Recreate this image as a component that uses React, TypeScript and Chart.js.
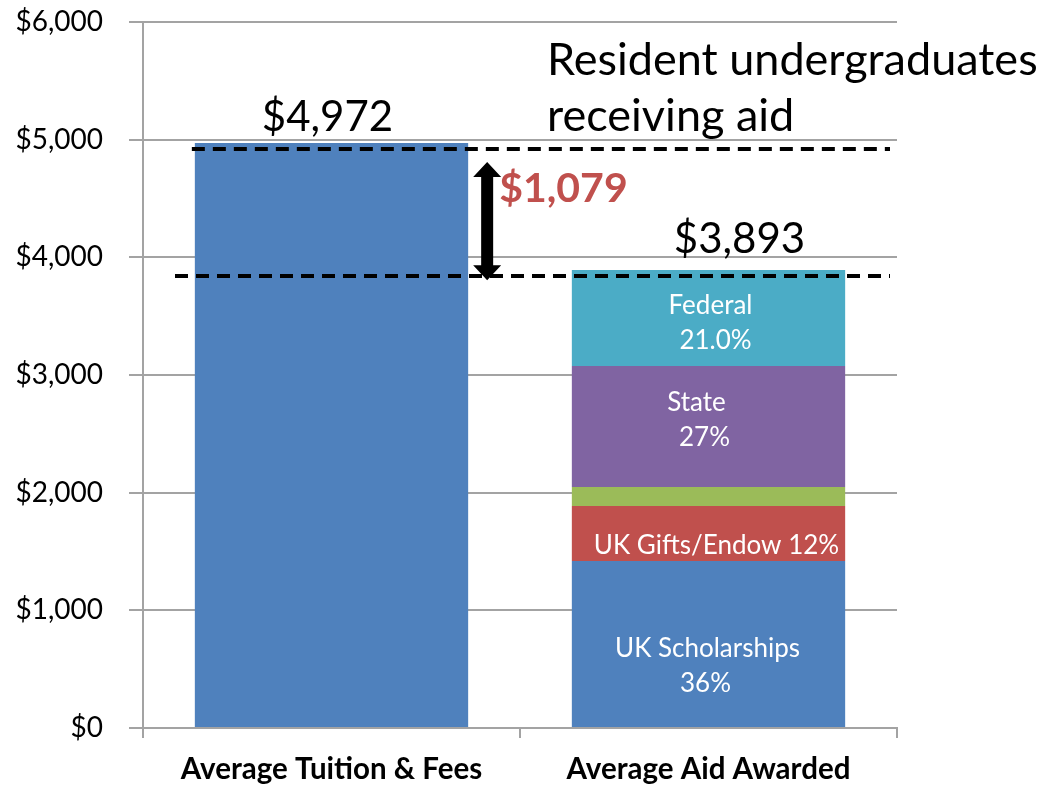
import React, { useEffect, useRef } from "react";
import { Chart, registerables } from "chart.js";

Chart.register(...registerables);

// ---------- data ----------
const categories = ["Average Tuition & Fees", "Average Aid Awarded"];
const tuitionValues = [4972, null];
const scholarshipValues = [null, 1419];
const giftValues = [null, 467];
const otherValues = [null, 162];
const stateValues = [null, 1028];
const federalValues = [null, 817];
const segmentLabels = [["UK Scholarships", "36%"], ["UK Gifts/Endow 12%"], [], ["State", "27%"], ["Federal", "21.0%"]];
const totalLabels = ["$4,972", "$3,893"];
const referenceLines = [4917, 3838];
const arrowRange = [3805, 4810];
const gapLabel = "$1,079";
const titleLines = ["Resident undergraduates", "receiving aid"];
const yMin = 0;
const yMax = 6000;
const yStep = 1000;

// ---------- styles ----------
const FONT = "Lato, 'Open Sans', sans-serif";
const GRID = "#a3a3a3";
const segColors = ["#4F81BD", "#C0504D", "#9BBB59", "#8064A2", "#4BACC6"];
const segLayout = [
  { dy: 13, dx: [-1, -3] },
  { dy: 20, dx: [8] },
  { dy: 0, dx: [] },
  { dy: -16, dx: [-12, -4] },
  { dy: -4, dx: [2, 7] },
];

const annotationPlugin = {
  id: "annotations",
  afterDatasetsDraw(chart: any) {
    const ctx = chart.ctx;
    const ys = chart.scales.y;
    const area = chart.chartArea;
    const bar0 = chart.getDatasetMeta(0).data[0];
    const aidEls = [1, 2, 3, 4, 5].map((i) => chart.getDatasetMeta(i).data[1]);
    const topEl = aidEls[4];
    ctx.save();

    // segment labels
    ctx.fillStyle = "#ffffff";
    ctx.font = `26px ${FONT}`;
    ctx.textAlign = "center";
    ctx.textBaseline = "alphabetic";
    segmentLabels.forEach((lines, i) => {
      const el = aidEls[i];
      const mid = (el.y + el.base) / 2;
      lines.forEach((t, j) => {
        ctx.fillText(t, el.x + segLayout[i].dx[j], mid + segLayout[i].dy + j * 35);
      });
    });

    // dashed reference lines
    ctx.strokeStyle = "#000";
    ctx.lineWidth = 4;
    ctx.setLineDash([13, 8]);
    const starts = [bar0.x - bar0.width / 2 - 3, area.left + 32];
    referenceLines.forEach((v, i) => {
      const py = Math.round(ys.getPixelForValue(v));
      ctx.beginPath();
      ctx.moveTo(starts[i], py);
      ctx.lineTo(area.right - 7, py);
      ctx.stroke();
    });
    ctx.setLineDash([]);

    // double arrow
    const ax = bar0.x + bar0.width / 2 + 19;
    const aTop = ys.getPixelForValue(arrowRange[1]);
    const aBot = ys.getPixelForValue(arrowRange[0]);
    const headH = 15;
    const headW = 14;
    const shaft = 6;
    ctx.fillStyle = "#000";
    ctx.beginPath();
    ctx.moveTo(ax, aTop);
    ctx.lineTo(ax + headW, aTop + headH);
    ctx.lineTo(ax + shaft, aTop + headH);
    ctx.lineTo(ax + shaft, aBot - headH);
    ctx.lineTo(ax + headW, aBot - headH);
    ctx.lineTo(ax, aBot);
    ctx.lineTo(ax - headW, aBot - headH);
    ctx.lineTo(ax - shaft, aBot - headH);
    ctx.lineTo(ax - shaft, aTop + headH);
    ctx.lineTo(ax - headW, aTop + headH);
    ctx.closePath();
    ctx.fill();

    // gap label
    ctx.fillStyle = "#C0504D";
    ctx.font = `bold 41px ${FONT}`;
    ctx.textAlign = "left";
    ctx.fillText(gapLabel, bar0.x + bar0.width / 2 + 31, ys.getPixelForValue(arrowRange[1]) + 40);

    // totals
    ctx.fillStyle = "#000";
    ctx.font = `42px ${FONT}`;
    ctx.textAlign = "center";
    ctx.fillText(totalLabels[0], bar0.x - 4, bar0.y - 12);
    ctx.fillText(totalLabels[1], topEl.x + 31, topEl.y - 17);

    // title
    ctx.font = `45px ${FONT}`;
    ctx.textAlign = "left";
    ctx.fillText(titleLines[0], area.left + 404, 75);
    ctx.fillText(titleLines[1], area.left + 404, 131);

    ctx.restore();
  },
};

export default function App() {
  const ref = useRef<HTMLCanvasElement | null>(null);
  useEffect(() => {
    if (!ref.current) return;
    const mk = (label: string, data: any[], color: string) => ({
      label,
      data,
      backgroundColor: color,
      borderWidth: 0,
      barPercentage: 0.725,
      categoryPercentage: 1,
    });
    const chart = new Chart(ref.current, {
      type: "bar",
      data: {
        labels: categories,
        datasets: [
          mk("Tuition", tuitionValues, segColors[0]),
          mk("UK Scholarships", scholarshipValues, segColors[0]),
          mk("UK Gifts/Endow", giftValues, segColors[1]),
          mk("Other", otherValues, segColors[2]),
          mk("State", stateValues, segColors[3]),
          mk("Federal", federalValues, segColors[4]),
        ],
      },
      options: {
        responsive: false,
        animation: false,
        layout: { padding: { top: 22, right: 159, left: 0, bottom: 0 } },
        plugins: { legend: { display: false }, tooltip: { enabled: false } },
        scales: {
          x: {
            stacked: true,
            afterFit: (s: any) => {
              s.height = 57;
            },
            grid: {
              display: true,
              drawOnChartArea: false,
              drawTicks: true,
              tickLength: 10,
              color: GRID,
              lineWidth: 2,
              offset: true,
            },
            border: { display: true, color: GRID, width: 2 },
            ticks: {
              color: "#000",
              font: { family: FONT, size: 29.5, weight: "bold" },
              padding: 14,
              maxRotation: 0,
            },
          },
          y: {
            stacked: true,
            min: yMin,
            max: yMax,
            afterFit: (s: any) => {
              s.width = 143;
              s.paddingTop = 0;
              s.paddingBottom = 0;
            },
            grid: { color: GRID, lineWidth: 2, tickLength: 14 },
            border: { display: true, color: GRID, width: 2 },
            ticks: {
              stepSize: yStep,
              color: "#000",
              font: { family: FONT, size: 28 },
              padding: 26,
              callback: (v: any) => "$" + Number(v).toLocaleString("en-US"),
            },
          },
        },
      },
      plugins: [annotationPlugin],
    });
    return () => chart.destroy();
  }, []);
  return (
    <div style={{ position: "absolute", left: 0, top: 0, width: 1056, height: 785, background: "#fff" }}>
      <canvas ref={ref} width={1056} height={785} style={{ display: "block" }} />
    </div>
  );
}
